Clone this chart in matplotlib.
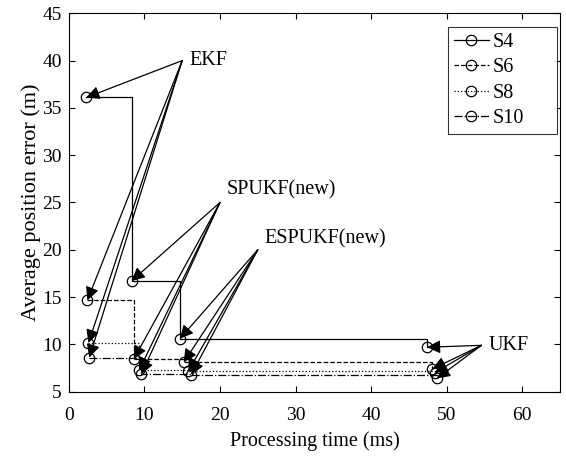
import matplotlib
matplotlib.use('Agg')
import matplotlib.pyplot as plt

plt.rcParams['font.family'] = ['Liberation Serif', 'DejaVu Serif']
plt.rcParams['mathtext.fontset'] = 'stix'

# processing time (ms) and error (m) for EKF, SPUKF(new), ESPUKF(new), UKF
series_names = ['S4', 'S6', 'S8', 'S10']
time_s4 = [2.3, 8.3, 14.7, 47.4]
err_s4 = [36.1, 16.7, 10.6, 9.7]
time_s6 = [2.45, 8.6, 15.2, 48.1]
err_s6 = [14.65, 8.45, 8.1, 7.4]
time_s8 = [2.6, 9.3, 15.8, 48.4]
err_s8 = [10.15, 7.25, 7.15, 7.0]
time_s10 = [2.7, 9.6, 16.2, 48.7]
err_s10 = [8.6, 6.85, 6.8, 6.4]

filters = ['EKF', 'SPUKF(new)', 'ESPUKF(new)', 'UKF']
arrow_tails = [(15, 40), (20, 25), (25, 20), (54.6, 9.9)]
label_pos = [(15.9, 40), (20.9, 26.3), (25.95, 21.2), (55.5, 9.9)]

x_ticks = [0, 10, 20, 30, 40, 50, 60]
y_ticks = [5, 10, 15, 20, 25, 30, 35, 40, 45]

times = [time_s4, time_s6, time_s8, time_s10]
errs = [err_s4, err_s6, err_s8, err_s10]
styles = ['-', '--', ':', '-.']

fig = plt.figure(figsize=(5.66, 4.57), dpi=100)
ax = fig.add_axes([0.1216, 0.1429, 0.8678, 0.828])

for name, t, e, ls in zip(series_names, times, errs, styles):
    ax.plot(t, e, linestyle=ls, drawstyle='steps-post', color='k', linewidth=0.9,
            marker='o', markersize=7.5, markerfacecolor='none', markeredgewidth=0.9,
            label=name)

# arrows from each filter label to its markers
for i in range(len(filters)):
    for t, e in zip(times, errs):
        ax.annotate('', xy=(t[i], e[i]), xytext=arrow_tails[i],
                    arrowprops=dict(arrowstyle='-|>', color='k', lw=0.9,
                                    mutation_scale=20, shrinkA=0, shrinkB=0))
    ax.text(label_pos[i][0], label_pos[i][1], filters[i], fontsize=14.5,
            ha='left', va='center')

ax.set_xlim(0, 65)
ax.set_ylim(5, 45)
ax.set_xticks(x_ticks)
ax.set_yticks(y_ticks)
ax.tick_params(direction='in', labelsize=14, length=4, top=True, right=True)
ax.tick_params(axis='x', pad=11)
ax.tick_params(axis='y', pad=5)
ax.set_xlabel('Processing time (ms)', fontsize=14.5, labelpad=5)
ax.set_ylabel('Average position error (m)', fontsize=16, labelpad=1)

leg = ax.legend(loc='upper left', bbox_to_anchor=(0.772, 0.0, 0.2215, 0.9638),
                mode='expand', fontsize=14.5, frameon=True, fancybox=False,
                edgecolor='k', handlelength=1.75, handletextpad=0.2,
                labelspacing=0.32, borderaxespad=0.0, borderpad=0.28)
leg.get_frame().set_linewidth(0.8)

fig.savefig('out.png', dpi=100)
